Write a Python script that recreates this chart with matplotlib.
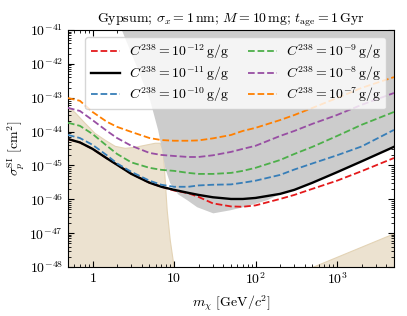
import numpy as np
import matplotlib
matplotlib.use('Agg')
import matplotlib.pyplot as plt

plt.rcParams['font.family'] = 'serif'
plt.rcParams['font.serif'] = ['cmr10']
plt.rcParams['mathtext.fontset'] = 'cm'
plt.rcParams['axes.formatter.use_mathtext'] = True
plt.rcParams['axes.unicode_minus'] = False

# dark matter mass grid [GeV/c^2]
mass = [0.5, 0.7, 1, 1.5, 2, 3, 5, 7, 10, 15, 20, 30, 50, 70, 100, 200, 300, 500, 1000, 2000, 5000]

# log10 of the sensitivity [cm^2] for each uranium concentration
log_sens = {
    -12: [-44.22, -44.32, -44.51, -44.79, -44.98, -45.25, -45.51, -45.63, -45.74, -45.82, -45.93,
          -46.12, -46.21, -46.22, -46.18, -45.99, -45.87, -45.69, -45.45, -45.17, -44.78],
    -11: [-44.22, -44.32, -44.51, -44.79, -44.98, -45.25, -45.51, -45.63, -45.72, -45.81, -45.87,
          -45.94, -45.99, -45.99, -45.96, -45.84, -45.72, -45.51, -45.20, -44.88, -44.45],
    -10: [-44.10, -44.19, -44.39, -44.70, -44.94, -45.19, -45.45, -45.57, -45.63, -45.63, -45.59,
          -45.57, -45.56, -45.51, -45.45, -45.28, -45.12, -44.94, -44.70, -44.44, -43.95],
    -9: [-43.74, -43.83, -44.07, -44.42, -44.66, -44.91, -45.07, -45.13, -45.16, -45.22, -45.25,
         -45.25, -45.22, -45.16, -45.07, -44.84, -44.66, -44.45, -44.13, -43.80, -43.42],
    -8: [-43.30, -43.39, -43.66, -43.98, -44.19, -44.42, -44.63, -44.69, -44.72, -44.75, -44.75,
         -44.70, -44.60, -44.51, -44.42, -44.13, -43.98, -43.77, -43.51, -43.21, -42.86],
    -7: [-43.01, -43.09, -43.42, -43.71, -43.86, -44.01, -44.19, -44.25, -44.27, -44.27, -44.26,
         -44.20, -44.10, -43.98, -43.89, -43.66, -43.51, -43.30, -43.01, -42.71, -42.39],
}
colors = {-12: '#e41a1c', -11: 'black', -10: '#377eb8', -9: '#4daf4a', -8: '#984ea3', -7: '#ff7f00'}

# excluded region (direct detection), lower edge
excl_mass = [2.27, 3.48, 5.02, 6.31, 7.06, 7.69, 8.85, 11.1, 14.3, 19.0, 29.9, 48.4, 78.4, 138, 200,
             300, 500, 1000, 2000, 5000]
excl_log = [-41.0, -42.09, -43.06, -43.95, -44.54, -45.07, -45.51, -45.84, -46.01, -46.22, -46.40,
            -46.31, -46.19, -46.01, -45.83, -45.71, -45.50, -45.19, -44.87, -44.44]

# low-mass tan region, upper edge
low_mass = [0.5, 0.6, 0.8, 1.06, 1.41, 1.87, 2.48, 3.29, 4.36, 5.79, 6.67, 7.26, 7.69, 8.13, 8.86, 9.91]
low_log = [-43.27, -43.42, -43.74, -44.04, -44.24, -44.42, -44.48, -44.45, -44.39, -44.33, -44.33,
           -44.54, -45.42, -46.31, -47.19, -48.0]

# high-mass tan region, upper edge
high_mass = [494, 5000]
high_log = [-48.0, -47.0]

fig = plt.figure(figsize=(4.07, 3.16), dpi=100)
ax = fig.add_axes([0.167, 0.155, 0.801, 0.750])

tan = '#ece2d0'
ax.fill_between(low_mass, 1e-49, 10.0 ** np.array(low_log), color=tan, edgecolor='#e3d3b5', lw=0.8, zorder=1)
ax.fill_between(high_mass, 1e-49, 10.0 ** np.array(high_log), color=tan, edgecolor='#e3d3b5', lw=0.8, zorder=1)
ax.fill_between(excl_mass, 10.0 ** np.array(excl_log), 1e-40, color='#cccccc', lw=0, zorder=2)

for c in [-12, -11, -10, -9, -8, -7]:
    ls = '-' if c == -11 else '--'
    lw = 1.7 if c == -11 else 1.3
    ax.plot(mass, 10.0 ** np.array(log_sens[c]), ls=ls, lw=lw, color=colors[c], zorder=3,
            label=r'$C^{238} = 10^{%d}\,\mathrm{g/g}$' % c)

ax.set_xscale('log')
ax.set_yscale('log')
ax.set_xlim(0.5, 5000)
ax.set_ylim(1e-48, 1e-41)
ax.set_xticks([1, 10, 100, 1000])
ax.set_xticklabels(['$1$', '$10$', '$10^{2}$', '$10^{3}$'])
ax.set_yticks([10.0 ** k for k in range(-48, -40)])
ax.tick_params(which='both', direction='in', top=True, right=True, labelsize=10)
ax.tick_params(which='major', length=4)
ax.tick_params(which='minor', length=2)

ax.set_xlabel(r'$m_\chi$ [GeV/$c^2$]', fontsize=10)
ax.set_ylabel(r'$\sigma_p^\mathrm{SI}$ [cm$^2$]', fontsize=10, labelpad=2)
ax.set_title(r'Gypsum; $\sigma_x = 1\,\mathrm{nm}$; $M = 10\,\mathrm{mg}$; $t_\mathrm{age} = 1\,\mathrm{Gyr}$',
             fontsize=10, pad=5)
ax.legend(ncol=2, loc='upper center', bbox_to_anchor=(0.515, 1.0), fontsize=10, framealpha=0.8,
          columnspacing=1.4, handlelength=2.1, handletextpad=0.6, borderpad=0.4, labelspacing=0.2)

fig.savefig('out.png', dpi=100)
